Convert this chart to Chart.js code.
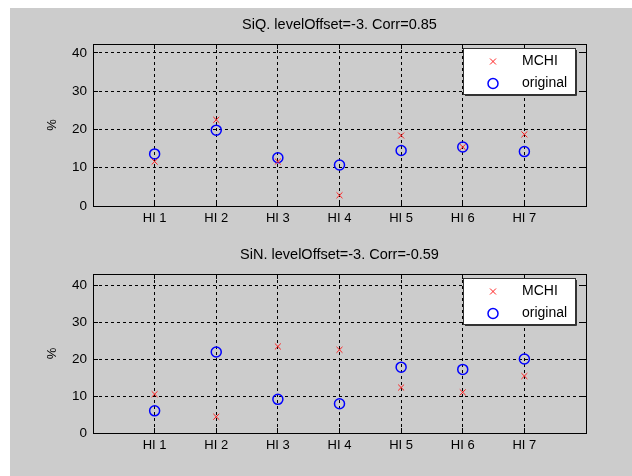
<!DOCTYPE html>
<html>
<head>
<meta charset="utf-8">
<script src="https://cdn.jsdelivr.net/npm/chart.js@4.4.1/dist/chart.umd.min.js"></script>
<style>
  html, body { margin: 0; padding: 0; background: #fff; }
  #fig { position: relative; width: 632px; height: 476px; overflow: hidden; }
  #bg { position: absolute; left: 10px; top: 8px; right: 0; bottom: 0; background: #cccccc; }
  canvas { position: absolute; left: 0; }
  #topChart { top: 0; }
  #bottomChart { top: 238px; }
</style>
</head>
<body>
<div id="fig">
  <div id="bg"></div>
  <canvas id="topChart" width="632" height="238"></canvas>
  <canvas id="bottomChart" width="632" height="238"></canvas>
</div>
<script>
// data
const categories = ['HI 1', 'HI 2', 'HI 3', 'HI 4', 'HI 5', 'HI 6', 'HI 7'];
const seriesNames = ['MCHI', 'original'];
const yTicks = [0, 10, 20, 30, 40];

const siqTitle = 'SiQ. levelOffset=-3. Corr=0.85';
const siqMchi = [11.6, 22.5, 11.6, 2.8, 18.4, 15.4, 18.7];
const siqOriginal = [13.6, 19.8, 12.6, 10.7, 14.5, 15.4, 14.2];

const sinTitle = 'SiN. levelOffset=-3. Corr=-0.59';
const sinMchi = [10.5, 4.4, 23.4, 22.5, 12.3, 11.0, 15.4];
const sinOriginal = [6.0, 21.9, 9.1, 7.9, 17.8, 17.2, 20.0];

const font = '"Liberation Sans", Arial, sans-serif';

const align = v => Math.round(v - 0.5) + 0.5;

// matlab style frame: box, inward ticks, title, legend inside axes
const matlabFrame = {
  id: 'matlabFrame',
  afterDraw(chart, args, opts) {
    const {ctx, chartArea: a, scales: {x, y}} = chart;
    ctx.save();
    ctx.strokeStyle = '#000';
    ctx.lineWidth = 1;
    ctx.setLineDash([]);
    ctx.beginPath();
    x.ticks.forEach(t => {
      const px = align(x.getPixelForValue(t.value));
      ctx.moveTo(px, a.bottom); ctx.lineTo(px, a.bottom - 5);
      ctx.moveTo(px, a.top); ctx.lineTo(px, a.top + 5);
    });
    y.ticks.forEach(t => {
      const py = align(y.getPixelForValue(t.value));
      ctx.moveTo(a.left, py); ctx.lineTo(a.left + 5, py);
      ctx.moveTo(a.right, py); ctx.lineTo(a.right - 5, py);
    });
    ctx.stroke();
    ctx.strokeRect(align(a.left), align(a.top), Math.round(a.right - a.left), Math.round(a.bottom - a.top));

    // title
    ctx.fillStyle = '#000';
    ctx.font = '14.5px ' + font;
    ctx.textAlign = 'center';
    ctx.textBaseline = 'middle';
    ctx.fillText(opts.title, (a.left + a.right) / 2, a.top - 19);

    // legend box
    const lx = Math.round(a.right) - 123, ly = Math.round(a.top) + 4, lw = 112, lh = 46;
    ctx.fillStyle = '#fff';
    ctx.fillRect(lx, ly, lw, lh);
    ctx.strokeStyle = '#333';
    ctx.strokeRect(lx + 0.5, ly + 0.5, lw, lh);
    ctx.beginPath();
    ctx.moveTo(lx + lw + 1.5, ly + 2); ctx.lineTo(lx + lw + 1.5, ly + lh + 1.5); ctx.lineTo(lx + 2, ly + lh + 1.5);
    ctx.stroke();

    ctx.font = '14px ' + font;
    chart.data.datasets.forEach((ds, i) => {
      const cy = ly + 13.5 + i * 22;
      const cx = lx + 30;
      ctx.strokeStyle = ds.borderColor;
      ctx.lineWidth = ds.borderWidth;
      ctx.beginPath();
      if (ds.pointStyle === 'crossRot') {
        ctx.moveTo(cx - 3, cy - 3); ctx.lineTo(cx + 3, cy + 3);
        ctx.moveTo(cx + 3, cy - 3); ctx.lineTo(cx - 3, cy + 3);
      } else {
        ctx.arc(cx, cy, ds.pointRadius, 0, Math.PI * 2);
      }
      ctx.stroke();
      ctx.fillStyle = '#000';
      ctx.textAlign = 'left';
      ctx.fillText(ds.label, lx + 59, cy);
    });
    ctx.restore();
  }
};

function makeChart(canvasId, title, mchi, original, yMax, padTop, xAxisHeight) {
  const el = document.getElementById(canvasId);
  return new Chart(el, {
    type: 'scatter',
    data: {
      datasets: [
        {
          label: seriesNames[0],
          data: mchi.map((v, i) => ({x: i + 1, y: v})),
          pointStyle: 'crossRot',
          pointRadius: 4.2,
          borderColor: '#ff2020',
          backgroundColor: '#ff2020',
          borderWidth: 1
        },
        {
          label: seriesNames[1],
          data: original.map((v, i) => ({x: i + 1, y: v})),
          pointStyle: 'circle',
          pointRadius: 5,
          borderColor: '#0000ff',
          backgroundColor: 'rgba(0,0,0,0)',
          borderWidth: 1.5
        }
      ]
    },
    options: {
      responsive: false,
      animation: false,
      devicePixelRatio: 1,
      layout: {
        padding: {top: padTop, right: 46, left: 0, bottom: 0}
      },
      plugins: {
        legend: {display: false},
        tooltip: {enabled: false},
        matlabFrame: {title: title}
      },
      scales: {
        x: {
          type: 'linear',
          min: 0,
          max: 8,
          afterBuildTicks: scale => {
            scale.ticks = categories.map((c, i) => ({value: i + 1}));
          },
          afterFit: scale => { scale.height = xAxisHeight; },
          ticks: {
            color: '#000',
            font: {family: font, size: 13},
            padding: 5,
            maxRotation: 0,
            autoSkip: false,
            callback: value => categories[value - 1]
          },
          grid: {color: '#000', lineWidth: 1, drawTicks: false},
          border: {display: false, dash: [3, 3]}
        },
        y: {
          min: 0,
          max: yMax,
          afterBuildTicks: scale => {
            scale.ticks = yTicks.map(v => ({value: v}));
          },
          afterFit: scale => { scale.width = 93; },
          ticks: {
            color: '#000',
            font: {family: font, size: 13.5},
            padding: 6
          },
          title: {
            display: true,
            text: '%',
            color: '#000',
            font: {family: font, size: 13},
            padding: {top: 45, bottom: 0}
          },
          grid: {color: '#000', lineWidth: 1, drawTicks: false},
          border: {display: false, dash: [3, 3]}
        }
      }
    },
    plugins: [matlabFrame]
  });
}

makeChart('topChart', siqTitle, siqMchi, siqOriginal, 42.3, 44, 32);
makeChart('bottomChart', sinTitle, sinMchi, sinOriginal, 43, 36, 43);
</script>
</body>
</html>
